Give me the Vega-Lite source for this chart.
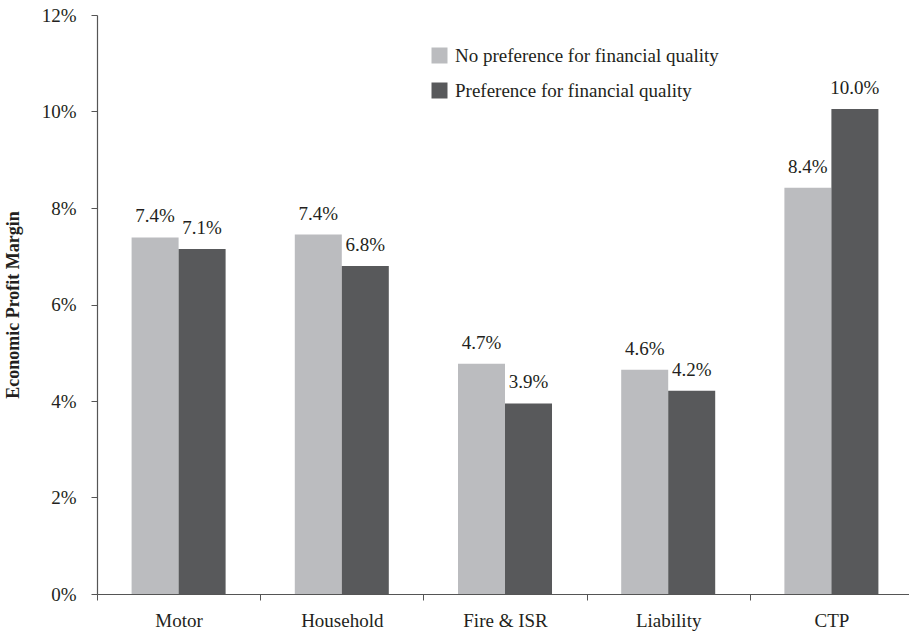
{
  "$schema": "https://vega.github.io/schema/vega-lite/v6.json",
  "autosize": {"type": "none"},
  "padding": {"left": 97, "top": 15, "right": 0, "bottom": 40},
  "width": 812,
  "height": 579,
  "background": "white",
  "config": {
    "font": "Liberation Serif, Times New Roman, serif",
    "view": {"stroke": null},
    "text": {"font": "Liberation Serif, Times New Roman, serif"},
    "axis": {"labelFont": "Liberation Serif, Times New Roman, serif", "titleFont": "Liberation Serif, Times New Roman, serif", "labelColor": "#231f20", "domainColor": "#555555", "tickColor": "#555555", "grid": false},
    "legend": {"labelFont": "Liberation Serif, Times New Roman, serif"}
  },
  "data": {
    "values": [
      {"category": "Motor", "series": "No preference for financial quality", "value": 0.0739, "label": "7.4%"},
      {"category": "Motor", "series": "Preference for financial quality", "value": 0.0715, "label": "7.1%"},
      {"category": "Household", "series": "No preference for financial quality", "value": 0.0745, "label": "7.4%"},
      {"category": "Household", "series": "Preference for financial quality", "value": 0.0680, "label": "6.8%"},
      {"category": "Fire & ISR", "series": "No preference for financial quality", "value": 0.0477, "label": "4.7%"},
      {"category": "Fire & ISR", "series": "Preference for financial quality", "value": 0.0395, "label": "3.9%"},
      {"category": "Liability", "series": "No preference for financial quality", "value": 0.0465, "label": "4.6%"},
      {"category": "Liability", "series": "Preference for financial quality", "value": 0.0421, "label": "4.2%"},
      {"category": "CTP", "series": "No preference for financial quality", "value": 0.0842, "label": "8.4%"},
      {"category": "CTP", "series": "Preference for financial quality", "value": 0.1005, "label": "10.0%"}
    ]
  },
  "encoding": {
    "x": {
      "field": "category", "type": "nominal",
      "sort": ["Motor", "Household", "Fire & ISR", "Liability", "CTP"],
      "scale": {"paddingInner": 0, "paddingOuter": 0, "range": [0, 816]},
      "axis": {"title": null, "labelAngle": 0, "labelFontSize": 19, "tickBand": "extent", "tickSize": 6, "labelPadding": 11, "labelBaseline": "top", "domainWidth": 1.2}
    },
    "xOffset": {
      "field": "series", "type": "nominal",
      "sort": ["No preference for financial quality", "Preference for financial quality"],
      "scale": {"paddingInner": 0, "paddingOuter": 0.736}
    },
    "y": {
      "field": "value", "type": "quantitative",
      "scale": {"domain": [0, 0.12]},
      "axis": {"title": "Economic Profit Margin", "titleFontSize": 18, "titleFontWeight": "bold", "titleColor": "#231f20", "titlePadding": 19, "format": ".0%", "values": [0, 0.02, 0.04, 0.06, 0.08, 0.1, 0.12], "labelFontSize": 19, "tickSize": 6, "labelPadding": 15, "domainWidth": 1.2}
    }
  },
  "layer": [
    {
      "mark": {"type": "bar"},
      "encoding": {
        "color": {
          "field": "series", "type": "nominal",
          "scale": {"domain": ["No preference for financial quality", "Preference for financial quality"], "range": ["#bbbcbf", "#58595b"]},
          "legend": {
            "title": null, "orient": "none", "legendX": 333, "legendY": 31,
            "symbolType": "square", "symbolSize": 256, "symbolStrokeWidth": 0, "symbolOpacity": 1,
            "labelFontSize": 19, "labelColor": "#231f20", "labelOffset": 6, "rowPadding": 15, "labelLimit": 400
          }
        }
      }
    },
    {
      "mark": {"type": "text", "baseline": "alphabetic", "align": "center", "dy": -15, "fontSize": 19, "color": "#231f20"},
      "encoding": {"text": {"field": "label"}}
    }
  ]
}
